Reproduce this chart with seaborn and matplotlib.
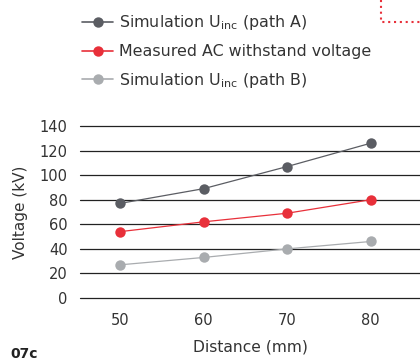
import pandas as pd
import seaborn as sns
import matplotlib.pyplot as plt
from matplotlib.lines import Line2D

# datos
distancia = [50, 60, 70, 80]
sim_a = [77, 89, 107, 126]
medido = [54, 62, 69, 80]
sim_b = [27, 33, 40, 46]

etiquetas = ["Simulation U$_{\\rm inc}$ (path A)",
             "Measured AC withstand voltage",
             "Simulation U$_{\\rm inc}$ (path B)"]
colores = ["#5b5d63", "#e8303a", "#a9acaf"]

df = pd.DataFrame({
    "Distance": distancia * 3,
    "Voltage": sim_a + medido + sim_b,
    "serie": [etiquetas[0]] * 4 + [etiquetas[1]] * 4 + [etiquetas[2]] * 4,
})

sns.set_theme(style="white")
plt.rcParams['font.family'] = ['DejaVu Sans']
plt.rcParams['mathtext.default'] = 'regular'
plt.rcParams['text.color'] = '#333333'

fig = plt.figure(figsize=(4.2, 3.59), dpi=100)
ax = fig.add_axes([80 / 420, (359 - 298) / 359, 340 / 420, 172 / 359])

sns.lineplot(data=df, x="Distance", y="Voltage", hue="serie", hue_order=etiquetas,
             palette=colores, marker="o", markersize=7.5, markeredgewidth=0,
             linewidth=0.9, ax=ax, legend=False)

ax.set_xlim(45.2, 85.9)
ax.set_ylim(0, 140)
ax.set_xticks(distancia)
ax.set_yticks(range(0, 141, 20))
ax.yaxis.grid(True, color="#222222", linewidth=0.9)
for gl in ax.get_ygridlines():
    gl.set_clip_on(False)
ax.set_axisbelow(True)
for s in ax.spines.values():
    s.set_visible(False)
ax.tick_params(axis="both", length=0, labelsize=10.5, colors="#333333")
ax.tick_params(axis="x", pad=11)
ax.tick_params(axis="y", pad=9)
ax.set_xlabel("Distance (mm)", fontsize=11.2, color="#333333", labelpad=8)
ax.set_ylabel("Voltage (kV)", fontsize=11, color="#333333", labelpad=8)

handles = [Line2D([0], [0], color=c, marker="o", markersize=7.5, markeredgewidth=0, linewidth=1.2)
           for c in colores]
fig.legend(handles, etiquetas, loc="upper left", bbox_to_anchor=(68 / 420, 1 + 1 / 359),
           frameon=False, fontsize=11.4, handlelength=1.95, handletextpad=0.4,
           labelspacing=0.75, labelcolor="#333333")

# marco punteado rojo arriba a la derecha
fig.add_artist(Line2D([381 / 420, 381 / 420, 1.0], [1.0, 1 - 22 / 359, 1 - 22 / 359],
                      transform=fig.transFigure, color="#e8303a", linestyle=(0, (1, 1.8)),
                      linewidth=1.5))

fig.text(10 / 420, -0.006, "07c", fontsize=10, fontweight="bold", color="#222222", va="bottom")

fig.savefig("out.png", dpi=100)
